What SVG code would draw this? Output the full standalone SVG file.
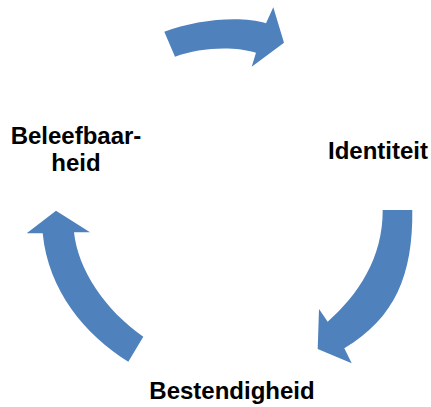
<svg xmlns="http://www.w3.org/2000/svg" width="431" height="407" viewBox="0 0 431 407">
<style>
.arrow{fill:#4F81BD;stroke:none}
.lbl{font-family:"Liberation Sans",Arial,sans-serif;font-weight:bold;font-size:24px;fill:#000;text-anchor:middle}
</style>
<rect width="431" height="407" fill="#fff"/>
<g id="connectors">
<path id="arrow-top" class="arrow" d="M164.3,31.7 C195,20 240,15 266,23.3 L273.3,7.3 L284,42.7 L251.7,66.7 L256,52.7 C235,46 200,47 175,56.7 Z"/>
<path id="arrow-right" class="arrow" d="M382.7,210 L412.3,210 C413,275 395,318 344.3,348.3 L351.7,363.3 L317.7,349 L319,309 L327.7,321.7 C358,295 383,258 382.7,210 Z"/>
<path id="arrow-left" class="arrow" d="M56,210.7 L90,232.3 L74,232.3 C78,270 105,310 143.3,336.7 L128.3,361.7 C85,335 48,290 42.7,233.3 L26.7,233.3 Z"/>
</g>
<g id="node-identiteit"><text class="lbl" x="378" y="159">Identiteit</text></g>
<g id="node-beleefbaarheid"><text class="lbl" x="76" y="144.3">Beleefbaar-</text><text class="lbl" x="76" y="171">heid</text></g>
<g id="node-bestendigheid"><text class="lbl" x="232" y="399">Bestendigheid</text></g>
</svg>
